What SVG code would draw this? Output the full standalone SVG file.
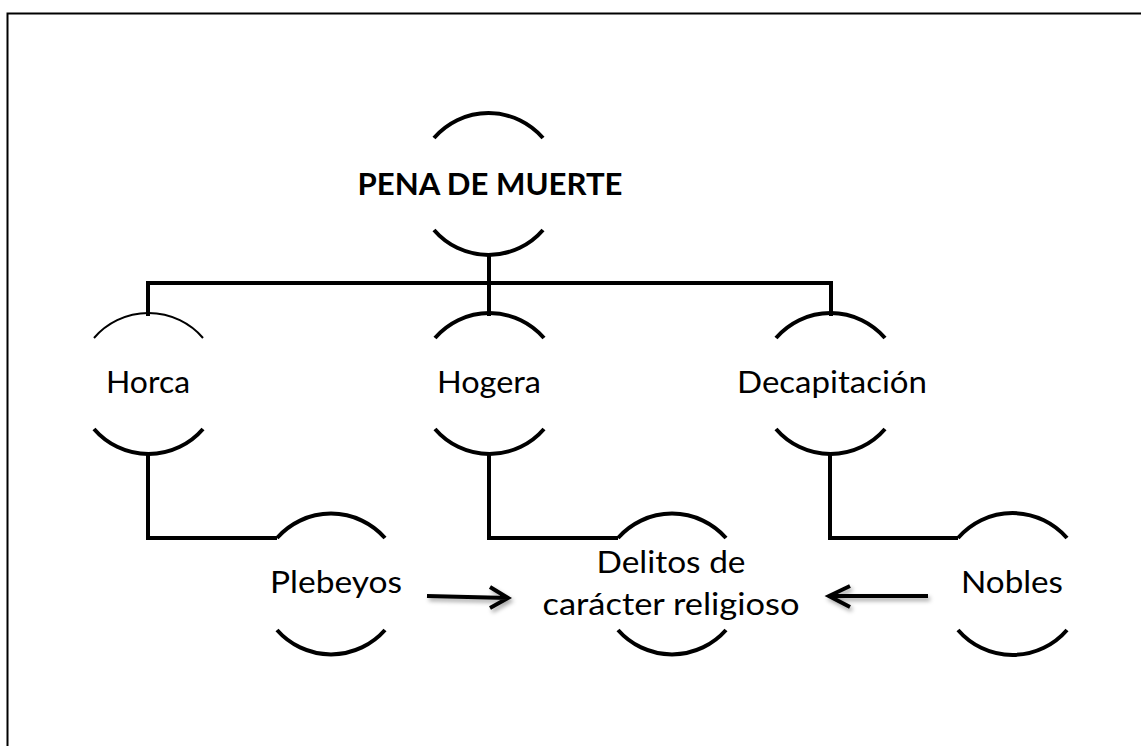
<svg xmlns="http://www.w3.org/2000/svg" width="1141" height="746" viewBox="0 0 1141 746">
<defs>
<style>
.arc{fill:none;stroke:#000;stroke-width:4}
.thin{stroke-width:2}
.ln{fill:none;stroke:#000;stroke-width:4;stroke-linejoin:miter}
.t{font-family:Lato,"Open Sans","Liberation Sans",sans-serif;font-size:31px;fill:#000;text-anchor:middle}
.b{font-weight:bold}
.arr{fill:none;stroke:#000;stroke-width:4;stroke-linecap:butt;stroke-linejoin:miter}
</style>
<filter id="sh" x="-20%" y="-50%" width="140%" height="200%">
<feDropShadow dx="2" dy="3" stdDeviation="2" flood-color="#000" flood-opacity="0.35"/>
</filter>
</defs>
<rect width="1141" height="746" fill="#fff"/>
<path d="M7.5 746 V13.5 H1141" fill="none" stroke="#000" stroke-width="2"/>

<g id="connectors">
<path class="ln" d="M489 255 V283"/>
<path class="ln" d="M148 316 V283 H831 V316"/>
<path class="ln" d="M489 283 V316"/>
<path class="ln" d="M148 455 V538 H277"/>
<path class="ln" d="M489 455 V538 H618"/>
<path class="ln" d="M830 455 V538 H958"/>
<g filter="url(#sh)">
<path class="arr" d="M427 596 L508 598 M490 587 L508 598 L490 608"/>
<path class="arr" d="M928 596 H829 M850 586 L829 596 L850 607"/>
</g>
</g>

<g id="n-pena">
<path class="arc" d="M434 138 A72 72 0 0 1 543 138"/>
<path class="arc" d="M434 230 A72 72 0 0 0 543 230"/>
<text class="t b" x="490" y="195" textLength="265" lengthAdjust="spacingAndGlyphs">PENA DE MUERTE</text>
</g>
<g id="n-horca">
<path class="arc thin" d="M94 338 A72 72 0 0 1 203 338"/>
<path class="arc" d="M94 429 A72 72 0 0 0 203 429"/>
<text class="t" x="148" y="393" textLength="84" lengthAdjust="spacingAndGlyphs">Horca</text>
</g>
<g id="n-hogera">
<path class="arc" d="M435 338 A72 72 0 0 1 544 338"/>
<path class="arc" d="M435 429 A72 72 0 0 0 544 429"/>
<text class="t" x="489" y="393" textLength="104" lengthAdjust="spacingAndGlyphs">Hogera</text>
</g>
<g id="n-decap">
<path class="arc" d="M776 338 A72 72 0 0 1 885 338"/>
<path class="arc" d="M776 429 A72 72 0 0 0 885 429"/>
<text class="t" x="832" y="393" textLength="190" lengthAdjust="spacingAndGlyphs">Decapitación</text>
</g>
<g id="n-plebeyos">
<path class="arc" d="M277 538 A72 72 0 0 1 385 538"/>
<path class="arc" d="M277 630 A72 72 0 0 0 385 630"/>
<text class="t" x="336" y="593" textLength="132" lengthAdjust="spacingAndGlyphs">Plebeyos</text>
</g>
<g id="n-delitos">
<path class="arc" d="M618 538 A72 72 0 0 1 726 538"/>
<path class="arc" d="M618 630 A72 72 0 0 0 726 630"/>
<text class="t" x="671" y="573" textLength="149" lengthAdjust="spacingAndGlyphs">Delitos de</text>
<text class="t" x="671" y="615" textLength="257" lengthAdjust="spacingAndGlyphs">carácter religioso</text>
</g>
<g id="n-nobles">
<path class="arc" d="M958 538 A72 72 0 0 1 1067 538"/>
<path class="arc" d="M958 630 A72 72 0 0 0 1067 630"/>
<text class="t" x="1012" y="593" textLength="102" lengthAdjust="spacingAndGlyphs">Nobles</text>
</g>
</svg>
